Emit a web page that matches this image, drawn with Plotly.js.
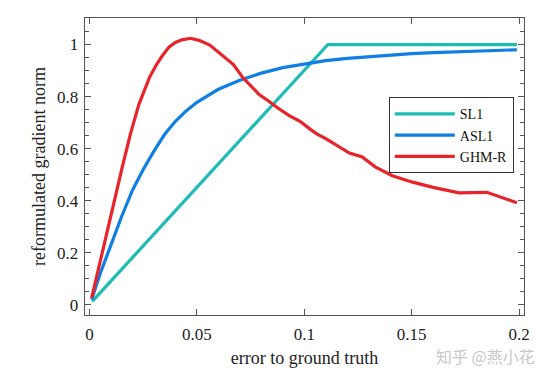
<!DOCTYPE html>
<html>
<head>
<meta charset="utf-8">
<script src="https://cdn.plot.ly/plotly-3.0.1.min.js"></script>
<style>html,body{margin:0;padding:0;background:#fff;}#chart{width:553px;height:376px;}</style>
</head>
<body>
<div id="chart"></div>
<script>
// SL1
const sl1X = [0.0013, 0.111, 0.199];
const sl1Y = [0.013, 1.0, 1.0];
// ASL1
const asl1X = [0.001, 0.005, 0.01, 0.015, 0.02, 0.025, 0.03, 0.035, 0.04, 0.045, 0.05, 0.06, 0.07, 0.08, 0.09, 0.1, 0.11, 0.12, 0.13, 0.14, 0.15, 0.16, 0.17, 0.18, 0.19, 0.199];
const asl1Y = [0.02, 0.12, 0.23, 0.34, 0.44, 0.52, 0.59, 0.655, 0.705, 0.745, 0.778, 0.828, 0.863, 0.89, 0.911, 0.926, 0.938, 0.947, 0.954, 0.96, 0.965, 0.969, 0.972, 0.975, 0.978, 0.98];
// GHM-R
const ghmX = [0.001, 0.005, 0.01, 0.015, 0.019, 0.023, 0.028, 0.031, 0.034, 0.037, 0.040, 0.043, 0.047, 0.051, 0.056, 0.061, 0.067, 0.0715, 0.075, 0.079, 0.083, 0.088, 0.093, 0.098, 0.103, 0.106, 0.110, 0.115, 0.121, 0.127, 0.133, 0.141, 0.150, 0.160, 0.172, 0.185, 0.199];
const ghmY = [0.026, 0.17, 0.34, 0.52, 0.655, 0.77, 0.875, 0.92, 0.958, 0.99, 1.008, 1.018, 1.024, 1.016, 0.998, 0.965, 0.923, 0.872, 0.84, 0.808, 0.785, 0.754, 0.727, 0.705, 0.673, 0.656, 0.638, 0.613, 0.583, 0.568, 0.53, 0.496, 0.472, 0.451, 0.43, 0.432, 0.392];

const seriesNames = ['SL1', 'ASL1', 'GHM-R'];
const xTickVals = [0, 0.05, 0.1, 0.15, 0.2];
const xTickText = ['0', '0.05', '0.1', '0.15', '0.2'];
const yTickVals = [0, 0.2, 0.4, 0.6, 0.8, 1];
const yTickText = ['0', '0.2', '0.4', '0.6', '0.8', '1'];

const serif = 'Liberation Serif';
const traces = [
  {x: sl1X, y: sl1Y, name: seriesNames[0], mode: 'lines', line: {color: '#1dbdb6', width: 3.2}},
  {x: asl1X, y: asl1Y, name: seriesNames[1], mode: 'lines', line: {color: '#0f7fe3', width: 3.2}},
  {x: ghmX, y: ghmY, name: seriesNames[2], mode: 'lines', line: {color: '#e8232a', width: 3.2}}
];
const axisCommon = {
  showline: true, linecolor: '#555', linewidth: 1.3, mirror: 'ticks',
  ticks: 'inside', ticklen: 6, tickcolor: '#555', tickwidth: 1,
  showgrid: false, zeroline: false,
  tickfont: {family: serif, size: 17, color: '#222'}
};
const layout = {
  width: 553, height: 376,
  margin: {l: 85, r: 29, t: 18, b: 61},
  paper_bgcolor: '#fff', plot_bgcolor: '#fff',
  font: {family: serif},
  showlegend: true,
  xaxis: Object.assign({}, axisCommon, {
    range: [-0.0021, 0.2023], tickvals: xTickVals, ticktext: xTickText,
    ticklabelstandoff: 3,
    title: {text: 'error to ground truth', font: {family: serif, size: 18, color: '#222'}, standoff: 8}
  }),
  yaxis: Object.assign({}, axisCommon, {
    range: [-0.0396, 1.102], tickvals: yTickVals, ticktext: yTickText,
    ticklabelstandoff: 2,
    minor: {dtick: 0.05, ticks: 'inside', ticklen: 4, tickcolor: '#555', showgrid: false},
    title: {text: 'reformulated gradient norm', font: {family: serif, size: 18, color: '#222'}, standoff: 6}
  }),
  legend: {
    x: 0.692, y: 0.733, xanchor: 'left', yanchor: 'top',
    bordercolor: '#333', borderwidth: 1, bgcolor: '#fff',
    font: {family: serif, size: 14, color: '#111'},
    itemwidth: 60, tracegroupgap: 0
  },
  annotations: [{
    text: '知乎 @燕小花', xref: 'paper', yref: 'paper', x: 1.0296, y: -0.138,
    xanchor: 'right', yanchor: 'middle', showarrow: false,
    font: {family: 'Noto Sans CJK SC', size: 16, color: '#c8c8c8'}
  }]
};
Plotly.newPlot('chart', traces, layout, {staticPlot: true, displayModeBar: false});
</script>
</body>
</html>
